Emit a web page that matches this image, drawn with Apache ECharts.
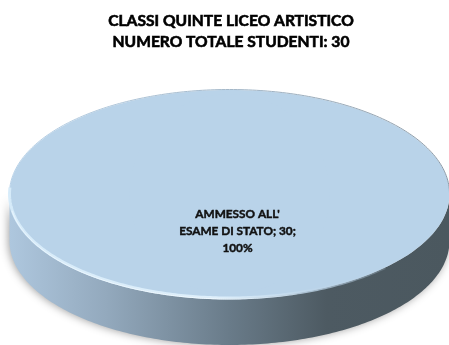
<!DOCTYPE html>
<html><head><meta charset="utf-8">
<style>html,body{margin:0;padding:0;background:#fff}#c{width:449px;height:345px}</style>
<script src="https://cdn.jsdelivr.net/npm/echarts@6/dist/echarts.min.js"></script>
</head><body><div id="c"></div>
<script>
const titleLines = ["CLASSI QUINTE LICEO ARTISTICO", "NUMERO TOTALE STUDENTI: 30"];
const categories = ["AMMESSO ALL'\nESAME DI STATO"];
const values = [30];
const colors = ["#B9D3E9"];

const total = values.reduce((a, b) => a + b, 0);
const CX = 229.5, CY = 194, RX = 220, RY = 104, DEPTH = 47;

function ellipsePts(cx, cy, a0, a1) {
  const pts = [], n = 180;
  for (let i = 0; i <= n; i++) {
    const t = a0 + (a1 - a0) * i / n;
    pts.push([cx + RX * Math.cos(t), cy + RY * Math.sin(t)]);
  }
  return pts;
}
function renderDisc(params, api) {
  const share = api.value(1) / total;
  const c = api.coord([CX, CY]);
  const top = ellipsePts(c[0], c[1], 0, 2 * Math.PI * share);
  const lower = ellipsePts(c[0], c[1], 0, Math.PI);
  const side = lower.map(p => [p[0], p[1] + DEPTH]).concat(lower.slice().reverse());
  return {
    type: 'group',
    children: [
      { type: 'polygon', shape: { points: side }, style: {
          fill: new echarts.graphic.LinearGradient(0, 0, 1, 0, [
            { offset: 0, color: '#AEC7DE' },
            { offset: 0.22, color: '#93A9BD' },
            { offset: 0.5, color: '#697B89' },
            { offset: 0.72, color: '#4D5A62' },
            { offset: 1, color: '#4B585F' }
          ]),
          shadowBlur: 9, shadowColor: 'rgba(0,0,0,0.38)', shadowOffsetX: -1, shadowOffsetY: 0 } },
      { type: 'polygon', shape: { points: top }, style: { fill: api.visual('color') } },
      { type: 'polyline', shape: { points: ellipsePts(c[0], c[1] - 0.5, Math.PI, Math.PI * 2) }, style: {
          fill: null, lineWidth: 1,
          stroke: new echarts.graphic.LinearGradient(0, 0, 1, 0, [
            { offset: 0, color: '#B9D3E9' }, { offset: 0.35, color: '#A9BFD2' }, { offset: 1, color: '#8C9AA6' }
          ]) } },
      { type: 'polyline', shape: { points: ellipsePts(c[0], c[1], Math.PI * 0.25, Math.PI * 1.02) }, style: {
          fill: null, lineWidth: 3,
          stroke: new echarts.graphic.LinearGradient(0, 0, 1, 0, [
            { offset: 0, color: 'rgba(215,236,250,0.95)' }, { offset: 0.55, color: 'rgba(226,242,253,0.9)' },
            { offset: 0.8, color: 'rgba(190,214,234,0.8)' }, { offset: 1, color: 'rgba(185,211,233,0.2)' }
          ]) } },
      { type: 'polyline', shape: { points: ellipsePts(c[0], c[1] + 1, Math.PI * 0.4, Math.PI * 0.95) }, style: {
          fill: null, lineWidth: 1,
          stroke: new echarts.graphic.LinearGradient(0, 0, 1, 0, [
            { offset: 0, color: '#EAF6FE' }, { offset: 0.7, color: '#F0F9FF' }, { offset: 1, color: 'rgba(220,235,247,0.3)' }
          ]) } }
    ]
  };
}

const chart = echarts.init(document.getElementById('c'), null, { renderer: 'canvas' });
chart.setOption({
  animation: false,
  backgroundColor: '#ffffff',
  textStyle: { fontFamily: 'Lato' },
  title: {
    text: titleLines.join('\n'), left: 226, textAlign: 'center', top: 5,
    textStyle: { fontFamily: 'Lato', fontSize: 15.6, fontWeight: 'bold', color: '#000', lineHeight: 21,
      textBorderColor: '#000', textBorderWidth: 0.6 }
  },
  grid: { left: 0, right: 0, top: 0, bottom: 0 },
  xAxis: { type: 'value', min: 0, max: 449, show: false },
  yAxis: { type: 'value', min: 0, max: 345, inverse: true, show: false },
  series: [
    { type: 'custom', renderItem: renderDisc, clip: false, silent: true, z: 1,
      encode: { x: 0, y: 2 }, itemStyle: { color: colors[0] },
      data: values.map((v, i) => [i, v, 0]) },
    { type: 'pie', center: [CX, CY], radius: [0, 100], z: 2, silent: true,
      startAngle: 90,
      data: categories.map((n, i) => ({ name: n, value: values[i], itemStyle: { color: colors[i] } })),
      labelLine: { show: false },
      label: { position: 'center', offset: [8, 37], formatter: '{b}; {c};\n{d}%',
        fontFamily: 'Lato', fontSize: 11.8, fontWeight: 'bold', color: '#111', lineHeight: 17, align: 'center',
        textBorderColor: '#111', textBorderWidth: 0.45 } }
  ]
});
</script></body></html>
